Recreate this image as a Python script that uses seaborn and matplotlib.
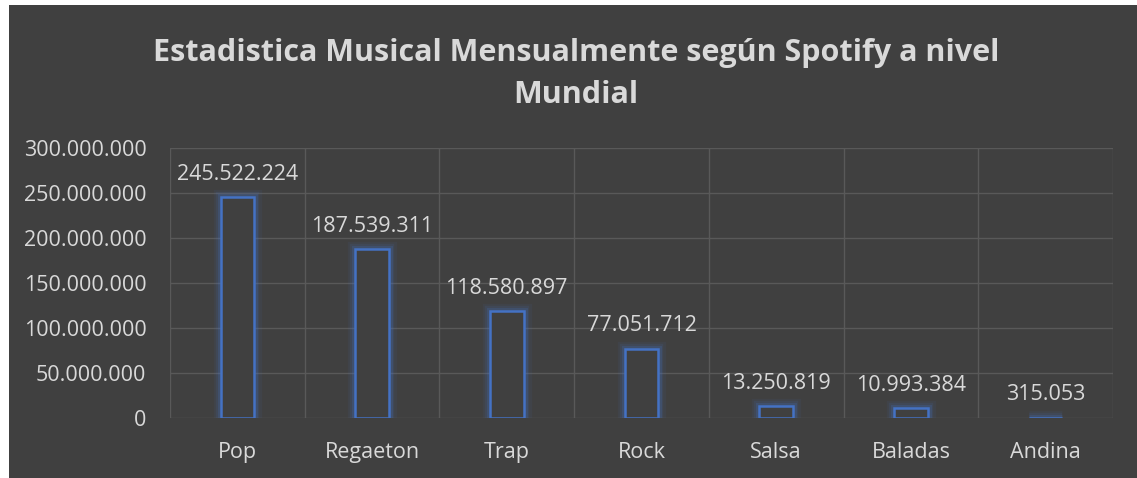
import matplotlib
matplotlib.use("Agg")
import matplotlib.pyplot as plt
from matplotlib.patches import Rectangle
import seaborn as sns
import pandas as pd

# data
genres = ["Pop", "Regaeton", "Trap", "Rock", "Salsa", "Baladas", "Andina"]
listeners = [245522224, 187539311, 118580897, 77051712, 13250819, 10993384, 315053]
yticks = [0, 50000000, 100000000, 150000000, 200000000, 250000000, 300000000]

df = pd.DataFrame({"genre": genres, "listeners": listeners})

bg = "#404040"
txt = "#D9D9D9"
blue = "#4472C4"

sns.set_theme(style="white")
plt.rcParams["font.family"] = ["Open Sans", "DejaVu Sans"]

def fmt(v):
    return f"{v:,}".replace(",", ".")

fig = plt.figure(figsize=(11.37, 4.78), dpi=100, facecolor="white")
fig.patches.append(Rectangle((9 / 1137, 0), 1, 1 - 5 / 478, transform=fig.transFigure,
                             facecolor=bg, edgecolor="none", zorder=-10))
ax = fig.add_axes([170 / 1137, 1 - 418 / 478, 943 / 1137, 270 / 478])
ax.set_facecolor(bg)

# soft glow behind the outlines
for lw, a in [(11, 0.07), (7.5, 0.12), (5, 0.2)]:
    sns.barplot(data=df, x="genre", y="listeners", ax=ax, width=0.25,
                facecolor="none", edgecolor=blue, linewidth=lw, alpha=a, errorbar=None)
sns.barplot(data=df, x="genre", y="listeners", ax=ax, width=0.25,
            facecolor=bg, edgecolor=blue, linewidth=1.8, errorbar=None)

for i, v in enumerate(listeners):
    ax.annotate(fmt(v), (i, v), xytext=(0, 9), textcoords="offset points",
                ha="center", va="bottom", color=txt, fontsize=15.5)

ax.set_ylim(0, 300000000)
ax.set_xlim(-0.5, len(genres) - 0.5)
ax.set_yticks(yticks)
ax.set_yticklabels([fmt(t) for t in yticks])
ax.set_xticks(range(len(genres)), genres)
ax.set_xticks([i - 0.5 for i in range(len(genres) + 1)], minor=True)
ax.grid(True, axis="y", color="#595959", linewidth=1)
ax.grid(True, axis="x", which="minor", color="#595959", linewidth=1)
ax.set_axisbelow(True)
ax.tick_params(axis="y", colors=txt, labelsize=15.5, length=0, pad=17)
ax.tick_params(axis="x", colors=txt, labelsize=15.5, length=0, pad=17)
ax.tick_params(which="minor", length=0)
ax.set_xlabel("")
ax.set_ylabel("")
for s in ax.spines.values():
    s.set_visible(False)

fig.text(576 / 1137, 1 - 74 / 478,
         "Estadistica Musical Mensualmente según Spotify a nivel\nMundial",
         ha="center", va="center", color=txt, fontsize=22, fontweight="bold",
         linespacing=1.55)

fig.savefig("out.png", dpi=100, facecolor=fig.get_facecolor())
